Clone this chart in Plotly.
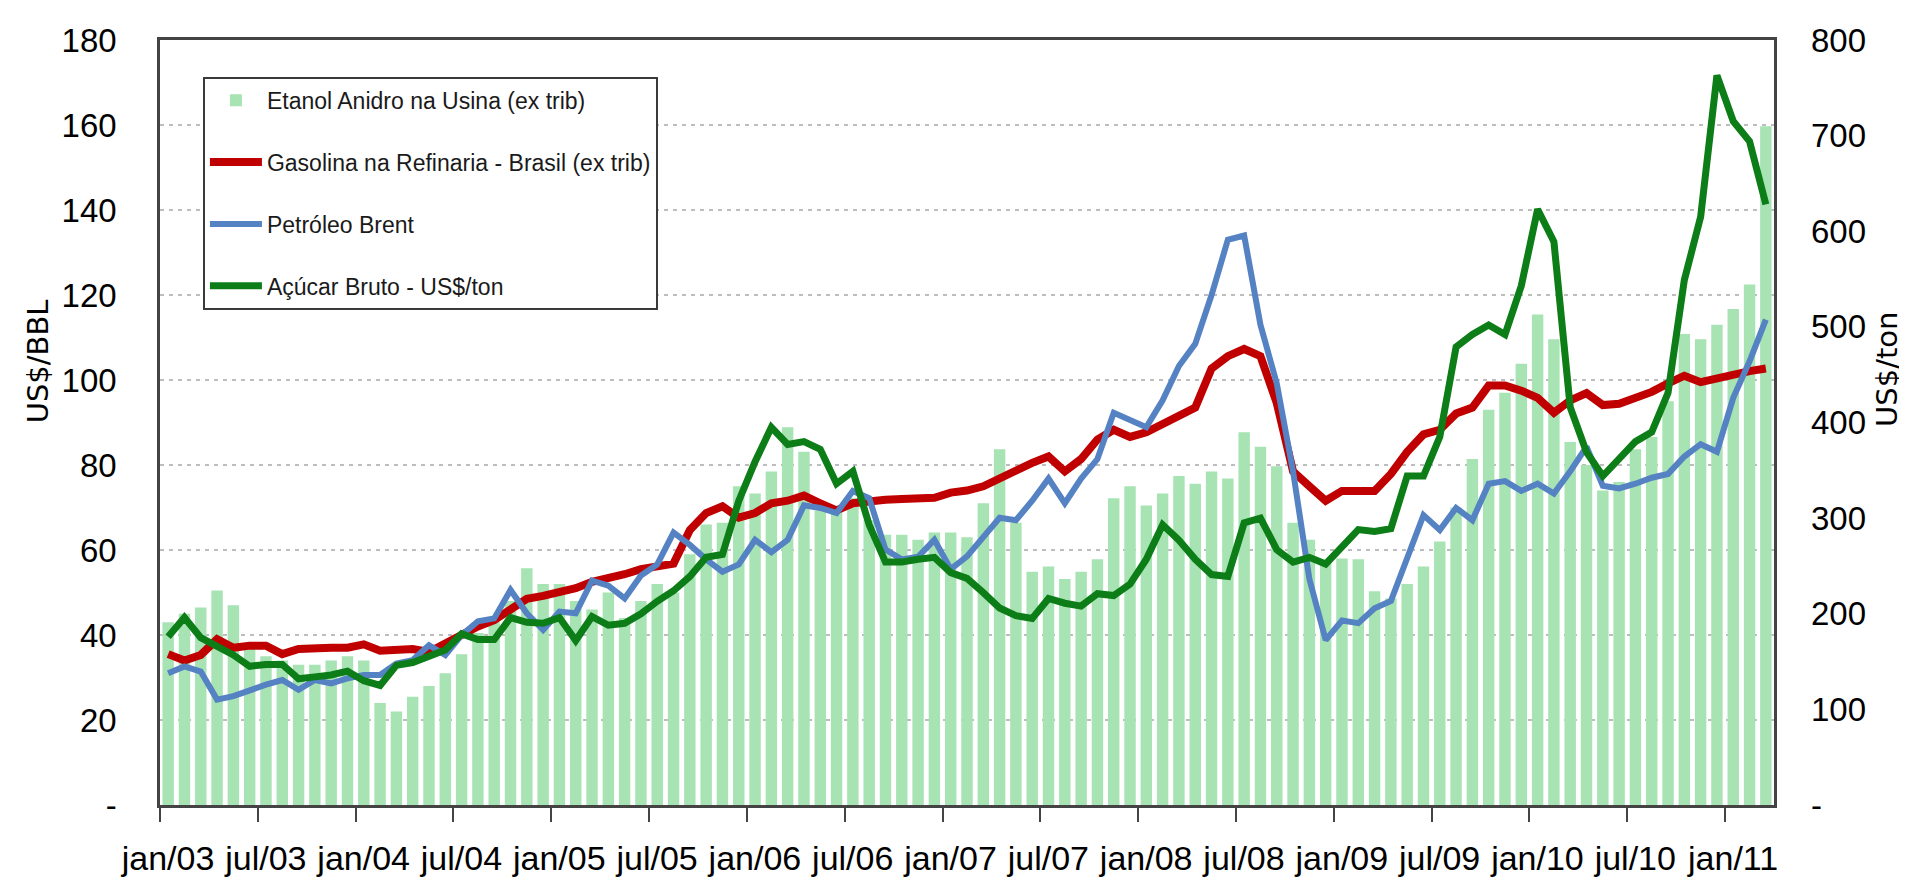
import plotly.graph_objects as go

# ---------------- data ----------------
month_abbr = ["jan", "fev", "mar", "abr", "mai", "jun", "jul", "ago", "set", "out", "nov", "dez"]
months = [f"{m}/{y:02d}" for y in range(3, 12) for m in month_abbr][:99]

tick_labels = ["jan/03", "jul/03", "jan/04", "jul/04", "jan/05", "jul/05", "jan/06", "jul/06",
               "jan/07", "jul/07", "jan/08", "jul/08", "jan/09", "jul/09", "jan/10", "jul/10", "jan/11"]

# Etanol Anidro na Usina (ex trib) - US$/BBL
etanol = [43, 45, 46.5, 50.5, 47, 37, 35, 34, 33, 33, 34, 35,
          34, 24, 22, 25.5, 28, 31, 35.5, 40.5, 43, 48, 55.7, 52,
          52, 48, 46, 50, 44, 48, 52, 50, 59, 66, 66.4, 75,
          73.3, 78.5, 88.9, 83.1, 69.3, 69.9, 72.2, 67, 63.6, 63.6, 62.4, 64.1,
          64.1, 63, 71, 83.7, 66.4, 54.9, 56.1, 53.2, 54.9, 57.8, 72.2, 75,
          70.5, 73.3, 77.4, 75.6, 78.5, 76.8, 87.7, 84.3, 79.7, 66.4, 62.4, 57,
          58, 57.8, 50.3, 48.6, 52, 56.1, 62, 70, 81.4, 93, 97, 103.8,
          115.4, 109.6, 85.4, 80, 74, 76, 83.7, 86.6, 95, 110.8, 109.6, 113,
          116.7, 122.5, 159.7]

# Gasolina na Refinaria - Brasil (ex trib) - US$/BBL
gasolina = [35.5, 34, 35.3, 39, 37, 37.5, 37.5, 35.5, 36.7, 37, 37, 37,
            37.8, 36.3, 36.7, 36.7, 36, 38, 40.5, 42, 43.5, 46, 48.5, 49.2,
            50, 51, 52.5, 53.2, 54.3, 55.5, 56.1, 56.8, 64.7, 68.7, 70.3, 67.6,
            68.7, 71, 71.6, 72.8, 71, 69.3, 71, 71.6, 71.8, 72, 72, 72.3,
            73.5, 74, 75, 77, 79, 80.5, 82, 78.5, 81.4, 86, 88.3, 86.6,
            87.7, 89.5, 91.2, 93.5, 102.7, 105.6, 107.3, 105.6, 94.6, 78.5, 75, 71.6,
            73.9, 73.9, 73.9, 77.9, 83.1, 87.2, 88.3, 92.1, 93.5, 98.7, 98.7, 97.5,
            95.8, 92.3, 95.2, 96.9, 94.1, 94.4, 95.8, 97.2, 99.2, 101, 99.5, 100.4,
            101.5, 102.1, 102.7]

# Petroleo Brent - US$/BBL
brent = [31, 32.6, 31.4, 24.8, 25.6, 27.1, 28.3, 29.4, 27.1, 29.4, 28.6, 29.8,
         30.6, 30.6, 33.3, 34.1, 37.6, 35.3, 40, 43.2, 43.9, 50.6, 45.1, 41.2,
         45.5, 45.1, 52.8, 51.6, 48.6, 54, 56.6, 64.1, 61.2, 57.8, 54.9, 56.6,
         62.4, 59.5, 62.4, 70.5, 69.9, 68.7, 73.9, 72.2, 60.1, 57.8, 58.4, 62.4,
         55.5, 58.5, 63, 67.6, 67, 71.6, 76.8, 71, 76.8, 81.4, 92.3, 90.6,
         88.9, 95.2, 103.3, 108.5, 120, 133, 134, 113, 99.2, 78.5, 53.2, 38.8,
         43.4, 42.8, 46.3, 48, 57.8, 68.2, 64.7, 69.9, 67, 75.6, 76.2, 73.9,
         75.6, 73.3, 78.5, 84.3, 75.1, 74.5, 75.6, 77, 77.9, 82, 84.9, 83.1,
         95.8, 104.4, 114.2]

# Acucar Bruto - US$/ton (right axis)
acucar = [176, 196, 175, 167, 157, 145, 147, 147, 132, 134, 136, 140,
          130, 125, 146, 149, 155, 162, 179, 173, 173, 196, 191, 190,
          196, 172, 197, 188, 190, 200, 213, 224, 239, 259, 262, 318,
          359, 395, 377, 380, 372, 336, 349, 293, 254, 254, 257, 259,
          243, 237, 222, 206, 198, 195, 216, 211, 208, 221, 219, 231,
          257, 293, 277, 257, 241, 239, 295, 300, 267, 254, 259, 252,
          270, 288, 286, 289, 344, 344, 385, 479, 492, 502, 492, 543,
          623, 589, 416, 369, 344, 362, 380, 390, 431, 549, 615, 763,
          715, 694, 628]

left_ticks = [0, 20, 40, 60, 80, 100, 120, 140, 160, 180]
left_ticktext = ["-", "20", "40", "60", "80", "100", "120", "140", "160", "180"]
right_ticks = [0, 100, 200, 300, 400, 500, 600, 700, 800]
right_ticktext = ["-", "100", "200", "300", "400", "500", "600", "700", "800"]

# ---------------- figure ----------------
x_idx = list(range(len(months)))
tick_pos = [months.index(t) - 0.5 for t in tick_labels]

FONT = "Liberation Sans Narrow, Arial Narrow, Liberation Sans, Arial, sans-serif"

fig = go.Figure()
fig.add_trace(go.Bar(x=x_idx, y=etanol, customdata=months, name="Etanol Anidro na Usina (ex trib)",
                     marker=dict(color="#a7e3b3", line=dict(width=0)), legendgroup="g1",
                     hovertemplate="%{customdata}: %{y}<extra></extra>"))
fig.add_trace(go.Scatter(x=x_idx, y=gasolina, customdata=months, mode="lines",
                         name="Gasolina na Refinaria - Brasil (ex trib)",
                         line=dict(color="#c00000", width=8), legendgroup="g2",
                         hovertemplate="%{customdata}: %{y}<extra></extra>"))
fig.add_trace(go.Scatter(x=x_idx, y=brent, customdata=months, mode="lines", name="Petróleo Brent",
                         line=dict(color="#5482c2", width=6), legendgroup="g3",
                         hovertemplate="%{customdata}: %{y}<extra></extra>"))
fig.add_trace(go.Scatter(x=x_idx, y=acucar, customdata=months, mode="lines", name="Açúcar Bruto - US$/ton",
                         line=dict(color="#0c7d17", width=7), yaxis="y2", legendgroup="g4",
                         hovertemplate="%{customdata}: %{y}<extra></extra>"))

fig.update_layout(
    width=1907, height=886,
    margin=dict(l=152, r=141, t=32, b=89),
    paper_bgcolor="white", plot_bgcolor="white",
    bargap=0.3,
    showlegend=True,
    legend=dict(x=0.0266, y=0.952, xanchor="left", yanchor="top",
                bgcolor="white", bordercolor="#3a3a3a", borderwidth=2,
                font=dict(family=FONT, size=23, color="#1a1a1a"),
                tracegroupgap=29, itemwidth=52, traceorder="grouped"),
    xaxis=dict(range=[-0.5, len(months) - 0.5], tickmode="array", tickvals=tick_pos, ticktext=tick_labels,
               tickangle=0,
               ticks="outside", ticklen=14, tickwidth=1.5, tickcolor="#444",
               ticklabelshift=8, ticklabelstandoff=7,
               tickfont=dict(family=FONT, size=34, color="black"),
               showline=True, linecolor="#444", linewidth=2.5, mirror=True,
               showgrid=False, zeroline=False, automargin=False),
    yaxis=dict(range=[0, 180], tickmode="array", tickvals=left_ticks, ticktext=left_ticktext,
               ticks="", ticklabelstandoff=34,
               tickfont=dict(family=FONT, size=33, color="black"),
               showline=True, linecolor="#444", linewidth=2.5, mirror=True,
               showgrid=True, gridcolor="#bdbdbd", gridwidth=1.5, griddash="4px,5px",
               zeroline=False, automargin=False),
    yaxis2=dict(range=[0, 800], overlaying="y", side="right", tickmode="array",
                tickvals=right_ticks, ticktext=right_ticktext, ticks="", ticklabelstandoff=36,
                tickfont=dict(family=FONT, size=33, color="black"),
                showgrid=False, zeroline=False, showline=False, automargin=False),
    annotations=[
        dict(text="US$/BBL", xref="paper", yref="paper", x=-0.0756, y=0.58, textangle=-90,
             xanchor="center", yanchor="middle",
             showarrow=False, font=dict(family="DejaVu Sans, Verdana, sans-serif", size=29, color="black")),
        dict(text="US$/ton", xref="paper", yref="paper", x=1.070, y=0.57, textangle=-90,
             xanchor="center", yanchor="middle",
             showarrow=False, font=dict(family="DejaVu Sans, Verdana, sans-serif", size=29, color="black")),
    ],
)

fig.write_html("out.html")
